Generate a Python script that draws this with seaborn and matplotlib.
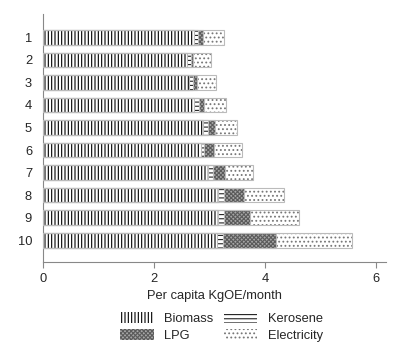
import numpy as np
import pandas as pd
import seaborn as sns
import matplotlib.pyplot as plt
from matplotlib.patches import Patch, Rectangle

deciles = ["1", "2", "3", "4", "5", "6", "7", "8", "9", "10"]
biomass = [2.73, 2.60, 2.64, 2.73, 2.89, 2.85, 2.98, 3.15, 3.16, 3.13]
kerosene = [0.07, 0.06, 0.07, 0.08, 0.08, 0.06, 0.09, 0.12, 0.10, 0.12]
lpg = [0.09, 0.05, 0.07, 0.10, 0.13, 0.17, 0.21, 0.35, 0.47, 0.96]
electricity = [0.38, 0.32, 0.34, 0.39, 0.39, 0.51, 0.51, 0.73, 0.89, 1.36]

sources = ["Biomass", "Kerosene", "LPG", "Electricity"]
df = pd.DataFrame({"decile": deciles, "Biomass": biomass, "Kerosene": kerosene,
                   "LPG": lpg, "Electricity": electricity})
cum = df[sources].cumsum(axis=1)

styles = {
    "Biomass": dict(fc="white", hc="black", hatch="|||||"),
    "Kerosene": dict(fc="white", hc="#222222", hatch="----"),
    "LPG": dict(fc="#a6a6a6", hc="#5a5a5a", hatch="xxxxxxxx"),
    "Electricity": dict(fc="white", hc="#777777", hatch="...."),
}

sns.set_style("white")
plt.rcParams["font.family"] = ["Liberation Sans", "DejaVu Sans"]
plt.rcParams["hatch.linewidth"] = 0.8

fig = plt.figure(figsize=(4.0, 3.53), dpi=100)
ax = fig.add_axes([0.108, 0.257, 0.856, 0.703])

edge = "#bbbbbb"
# draw cumulative totals from the outermost segment inwards
for src in sources[::-1]:
    n0 = len(ax.patches)
    st = styles[src]
    sns.barplot(x=cum[src], y=df["decile"], orient="h", order=deciles,
                color=st["fc"], width=0.65, ax=ax, saturation=1)
    for p in ax.patches[n0:]:
        p.set_facecolor(st["fc"])
        p.set_edgecolor(st["hc"])
        p.set_hatch(st["hatch"])
        p.set_linewidth(0)

# light grey outline round each segment
for p in list(ax.patches):
    ax.add_patch(Rectangle((p.get_x(), p.get_y()), p.get_width(), p.get_height(),
                           fill=False, edgecolor=edge, linewidth=0.8, zorder=3))

ax.set_xlim(0, 6.18)
ax.set_ylim(9.98, -1.03)
ax.set_xticks([0, 2, 4, 6])
ax.set_xlabel("Per capita KgOE/month", fontsize=9.3, labelpad=3)
ax.set_ylabel("")
ax.tick_params(axis="x", labelsize=9.3, length=4, color="#888888", width=0.8, bottom=True, pad=4)
ax.tick_params(axis="y", labelsize=9.3, length=0, pad=8)
for s in ["top", "right"]:
    ax.spines[s].set_visible(False)
for s in ["left", "bottom"]:
    ax.spines[s].set_color("#888888")
    ax.spines[s].set_linewidth(0.8)

# legend rows: Biomass / Kerosene, then LPG / Electricity
leg_order = ["Biomass", "LPG", "Kerosene", "Electricity"]
handles = [Patch(facecolor=styles[s]["fc"], edgecolor=styles[s]["hc"],
                 hatch=styles[s]["hatch"], linewidth=0) for s in leg_order]
fig.legend(handles, leg_order, loc="center", bbox_to_anchor=(0.554, 0.074), ncol=2,
           frameon=False, fontsize=9.3, handlelength=2.6, handleheight=1.0,
           handletextpad=0.8, columnspacing=0.8, labelspacing=0.3)

fig.savefig("out.png", dpi=100)
